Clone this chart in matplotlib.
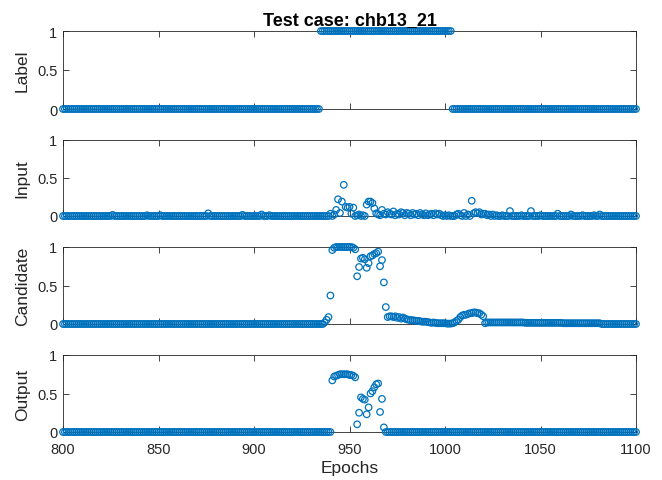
import numpy as np
import matplotlib
matplotlib.use("Agg")
import matplotlib.pyplot as plt

plt.rcParams['font.family'] = ['Liberation Sans', 'DejaVu Sans']

# epochs shown on the x axis
epochs = list(range(800, 1101))

# seizure label: 1 from 935 to 1003
label = [0] * 135 + [1] * 69 + [0] * 97

# input score, mostly zero with a few spikes
input_spikes = {
    826: 0.015, 844: 0.01, 851: 0.01, 876: 0.035, 894: 0.015, 904: 0.02, 908: 0.01,
    940: 0.03, 942: 0.02, 943: 0.08, 944: 0.22, 945: 0.04, 946: 0.19, 947: 0.41,
    948: 0.12, 949: 0.11, 950: 0.12, 951: 0.03, 952: 0.11, 954: 0.01, 955: 0.02,
    957: 0.01, 959: 0.15, 960: 0.19, 961: 0.19, 962: 0.17, 963: 0.10, 964: 0.035,
    965: 0.02, 966: 0.01, 967: 0.08, 968: 0.03, 969: 0.02, 970: 0.05, 971: 0.03,
    972: 0.02, 973: 0.06, 974: 0.01, 975: 0.03, 976: 0.02, 977: 0.05, 978: 0.04,
    979: 0.01, 980: 0.04, 981: 0.03, 982: 0.01, 983: 0.04, 984: 0.02, 985: 0.03,
    986: 0.01, 987: 0.04, 988: 0.02, 989: 0.01, 990: 0.035, 991: 0.01, 992: 0.02,
    993: 0.03, 994: 0.01, 995: 0.035, 996: 0.02, 997: 0.03, 998: 0.01, 1000: 0.01,
    1002: 0.01, 1006: 0.02, 1007: 0.03, 1008: 0.01, 1010: 0.04, 1012: 0.02,
    1014: 0.20, 1015: 0.035, 1016: 0.05, 1017: 0.04, 1018: 0.05, 1019: 0.02,
    1020: 0.03, 1021: 0.03, 1022: 0.01, 1023: 0.02, 1025: 0.02, 1027: 0.01,
    1030: 0.01, 1034: 0.065, 1040: 0.01, 1045: 0.065, 1050: 0.01, 1059: 0.03,
    1066: 0.02, 1072: 0.01, 1078: 0.01, 1081: 0.02,
}
input_vals = [input_spikes.get(e, 0.0) for e in epochs]

# candidate score
candidate = (
    [0.0] * 137
    + [0.02, 0.055, 0.09, 0.37, 0.96, 0.99, 1.0, 1.0, 1.0, 1.0, 1.0, 1.0,   # 937-948
       1.0, 1.0, 1.0, 0.99, 0.97, 0.62, 0.74, 0.85, 0.86, 0.84, 0.73, 0.79,  # 949-960
       0.88, 0.89, 0.91, 0.92, 0.94, 0.75, 0.83, 0.54, 0.22, 0.09, 0.10, 0.10,  # 961-972
       0.09, 0.10, 0.08, 0.09, 0.07, 0.085, 0.07, 0.06, 0.055, 0.05, 0.05, 0.045,  # 973-984
       0.04, 0.04, 0.035, 0.03, 0.03, 0.03, 0.025, 0.02, 0.015, 0.02, 0.015, 0.01,  # 985-996
       0.01, 0.01, 0.01, 0.01, 0.005, 0.005, 0.005, 0.01, 0.02, 0.04, 0.055, 0.09,  # 997-1008
       0.11, 0.12, 0.12, 0.13, 0.14, 0.14, 0.15, 0.15, 0.14, 0.14, 0.12, 0.10,  # 1009-1020
       0.01]                                                                   # 1021
    + [0.02] * 20 + [0.015] * 20 + [0.01] * 20 + [0.0] * 19
)

# final output
output = (
    [0.0] * 141
    + [0.67, 0.72, 0.73, 0.74, 0.75, 0.75, 0.75, 0.75, 0.75, 0.74, 0.74, 0.73,  # 941-952
       0.71, 0.10, 0.25, 0.45, 0.43, 0.42, 0.23, 0.32, 0.50, 0.53, 0.58, 0.62,  # 953-964
       0.63, 0.26, 0.43, 0.06]                                                 # 965-968
    + [0.0] * 132
)

series = [label, input_vals, candidate, output]
ylabels = ['Label', 'Input', 'Candidate', 'Output']

W, H = 662, 481
# axes boxes in pixels: (top, bottom)
rows = [(32, 110), (141, 217), (248, 325), (356, 433)]
left, right = 63, 636

fig = plt.figure(figsize=(W / 100, H / 100), dpi=100)
axc = '#262626'
blue = '#0072BD'

for i, (top, bot) in enumerate(rows):
    ax = fig.add_axes([left / W, 1 - bot / H, (right - left) / W, (bot - top) / H])
    ax.scatter(epochs, series[i], s=22, facecolors='none', edgecolors=blue,
               linewidths=0.9, clip_on=False, zorder=3)
    ax.set_xlim(800, 1100)
    ax.set_ylim(0, 1)
    ax.set_yticks([0, 0.5, 1])
    ax.set_yticklabels(['0', '0.5', '1'])
    ax.set_xticks(range(800, 1101, 50))
    ax.tick_params(direction='in', length=4, width=0.6, colors=axc, labelsize=10.5,
                   top=True, right=True, pad=4)
    ax.tick_params(axis='x', pad=7)
    for sp in ax.spines.values():
        sp.set_color(axc)
        sp.set_linewidth(0.6)
    ax.set_ylabel(ylabels[i], fontsize=12.5, color=axc)
    ax.yaxis.set_label_coords(-0.058, 0.5)
    if i < 3:
        ax.set_xticklabels([])
    else:
        ax.set_xlabel('Epochs', fontsize=12.5, color=axc, labelpad=3)
    if i == 0:
        ax.set_title('Test case: chb13_21', fontsize=13, fontweight='bold', color='black', pad=5)

fig.savefig('out.png', dpi=100)
